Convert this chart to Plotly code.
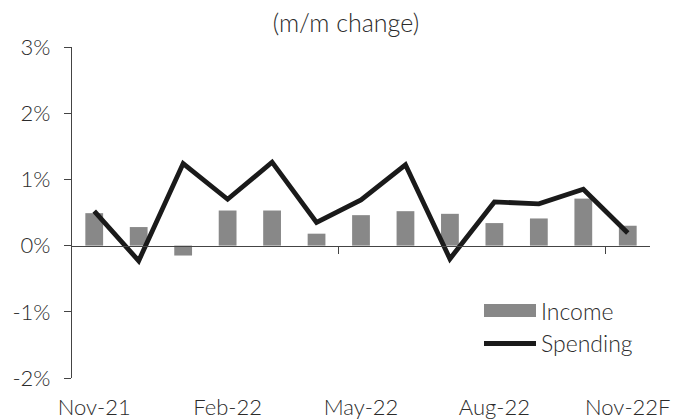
import plotly.graph_objects as go

categories = ["Nov-21", "Dec-21", "Jan-22", "Feb-22", "Mar-22", "Apr-22", "May-22",
              "Jun-22", "Jul-22", "Aug-22", "Sep-22", "Oct-22", "Nov-22F"]
income = [0.49, 0.28, -0.15, 0.53, 0.53, 0.18, 0.46, 0.52, 0.48, 0.34, 0.41, 0.71, 0.30]
spending = [0.52, -0.23, 1.24, 0.70, 1.26, 0.35, 0.69, 1.22, -0.20, 0.66, 0.63, 0.85, 0.19]
label_ticks = ["Nov-21", "Feb-22", "May-22", "Aug-22", "Nov-22F"]
y_ticks = [-2, -1, 0, 1, 2, 3]
y_labels = ["-2%", "-1%", "0%", "1%", "2%", "3%"]

FONT = "Lato"
TXT = "#2b2b2b"
AX = "#444444"
W = 300
FS = 22

fig = go.Figure()
fig.add_trace(go.Bar(x=categories, y=income, name="Income",
                     marker=dict(color="#888888", line=dict(width=0)),
                     showlegend=False))
fig.add_trace(go.Scatter(x=categories, y=spending, name="Spending", mode="lines",
                         line=dict(color="#1a1a1a", width=4.8),
                         showlegend=False))
# invisible trace to carry the zero-line axis
fig.add_trace(go.Scatter(x=[0], y=[0], xaxis="x2", yaxis="y", mode="markers",
                         marker=dict(opacity=0), showlegend=False, hoverinfo="skip"))

fig.update_layout(
    width=673, height=419,
    margin=dict(l=72, r=23, t=47, b=41),
    paper_bgcolor="white", plot_bgcolor="white",
    font=dict(family=FONT, size=FS, color=TXT, weight=W),
    bargap=0.6,
    title=dict(text="(m/m change)", x=346/673, xanchor="center",
               y=1 - 23/419, yanchor="middle", yref="container",
               font=dict(family=FONT, size=25, color=TXT, weight=W)),
    xaxis=dict(type="category", categoryorder="array", categoryarray=categories,
               range=[-0.5, 12.5], tickmode="array", tickvals=label_ticks,
               ticktext=label_ticks, showline=False, ticks="", showgrid=False,
               zeroline=False, ticklabelstandoff=14, automargin=False,
               tickfont=dict(family=FONT, size=FS, color=TXT, weight=W)),
    xaxis2=dict(overlaying="x", anchor="free", position=0.4, range=[-0.5, 12.5],
                showline=True, linecolor=AX, linewidth=1.3, ticks="outside",
                ticklen=7, tickwidth=1.3, tickcolor=AX, automargin=False,
                tickmode="array", tickvals=[5.5, 11.5], showticklabels=False,
                showgrid=False, zeroline=False),
    yaxis=dict(range=[-2, 3], tickmode="array", tickvals=y_ticks, ticktext=y_labels,
               showline=True, linecolor=AX, linewidth=1.3, ticks="outside",
               ticklen=7, tickwidth=1.3, tickcolor=AX, showgrid=False,
               zeroline=False, ticklabelstandoff=9, automargin=False,
               tickfont=dict(family=FONT, size=FS, color=TXT, weight=W)),
)

# manual legend (swatches in paper coordinates)
def px_x(px):
    return (px - 72) / (673 - 72 - 23)

def px_y(py):
    return (378 - py) / (378 - 47)

fig.add_shape(type="rect", xref="paper", yref="paper",
              x0=px_x(484), x1=px_x(536), y0=px_y(317), y1=px_y(304),
              fillcolor="#888888", line=dict(width=0))
fig.add_shape(type="line", xref="paper", yref="paper",
              x0=px_x(484), x1=px_x(536), y0=px_y(343.5), y1=px_y(343.5),
              line=dict(color="#1a1a1a", width=5))
fig.add_annotation(text="Income", xref="paper", yref="paper", x=px_x(539), y=px_y(311),
                   xanchor="left", yanchor="middle", showarrow=False,
                   font=dict(family=FONT, size=23, color=TXT, weight=W))
fig.add_annotation(text="Spending", xref="paper", yref="paper", x=px_x(539), y=px_y(343),
                   xanchor="left", yanchor="middle", showarrow=False,
                   font=dict(family=FONT, size=23, color=TXT, weight=W))

fig.write_html("out.html")
